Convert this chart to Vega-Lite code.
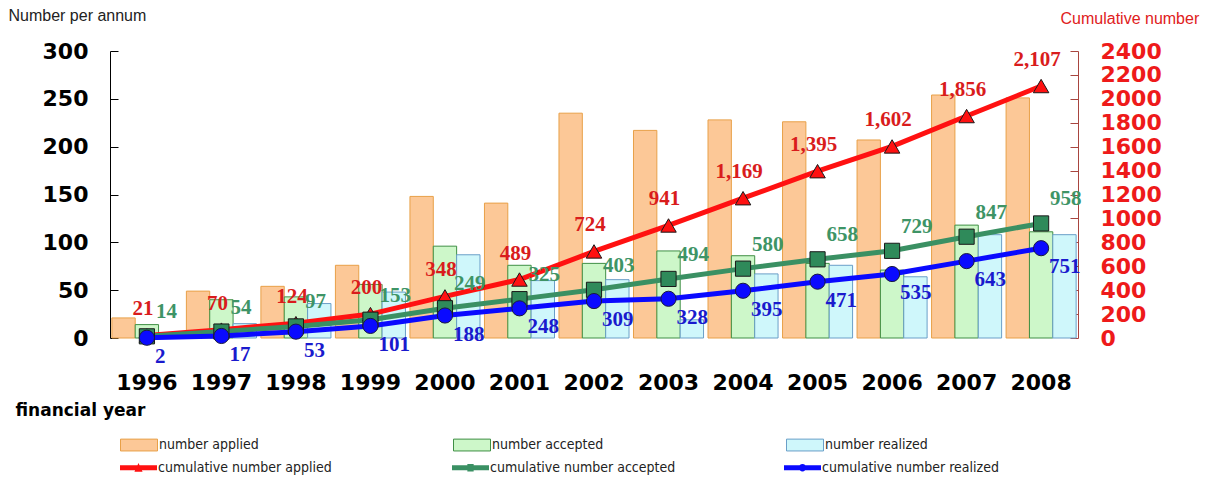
{
  "$schema": "https://vega.github.io/schema/vega-lite/v6.json",
  "width": 968,
  "height": 287,
  "autosize": {"type": "none"},
  "padding": {"left": 110, "top": 51, "right": 131, "bottom": 145},
  "background": "white",
  "config": {"view": {"stroke": null}, "font": "Liberation Sans"},
  "data": {
    "values": [
      {"year": "1996", "number applied": 21, "number accepted": 14, "number realized": 2, "cumulative number applied": 21, "cumulative number accepted": 14, "cumulative number realized": 2},
      {"year": "1997", "number applied": 49, "number accepted": 40, "number realized": 15, "cumulative number applied": 70, "cumulative number accepted": 54, "cumulative number realized": 17},
      {"year": "1998", "number applied": 54, "number accepted": 43, "number realized": 36, "cumulative number applied": 124, "cumulative number accepted": 97, "cumulative number realized": 53},
      {"year": "1999", "number applied": 76, "number accepted": 56, "number realized": 48, "cumulative number applied": 200, "cumulative number accepted": 153, "cumulative number realized": 101},
      {"year": "2000", "number applied": 148, "number accepted": 96, "number realized": 87, "cumulative number applied": 348, "cumulative number accepted": 249, "cumulative number realized": 188},
      {"year": "2001", "number applied": 141, "number accepted": 76, "number realized": 60, "cumulative number applied": 489, "cumulative number accepted": 325, "cumulative number realized": 248},
      {"year": "2002", "number applied": 235, "number accepted": 78, "number realized": 61, "cumulative number applied": 724, "cumulative number accepted": 403, "cumulative number realized": 309},
      {"year": "2003", "number applied": 217, "number accepted": 91, "number realized": 19, "cumulative number applied": 941, "cumulative number accepted": 494, "cumulative number realized": 328},
      {"year": "2004", "number applied": 228, "number accepted": 86, "number realized": 67, "cumulative number applied": 1169, "cumulative number accepted": 580, "cumulative number realized": 395},
      {"year": "2005", "number applied": 226, "number accepted": 78, "number realized": 76, "cumulative number applied": 1395, "cumulative number accepted": 658, "cumulative number realized": 471},
      {"year": "2006", "number applied": 207, "number accepted": 71, "number realized": 64, "cumulative number applied": 1602, "cumulative number accepted": 729, "cumulative number realized": 535},
      {"year": "2007", "number applied": 254, "number accepted": 118, "number realized": 108, "cumulative number applied": 1856, "cumulative number accepted": 847, "cumulative number realized": 643},
      {"year": "2008", "number applied": 251, "number accepted": 111, "number realized": 108, "cumulative number applied": 2107, "cumulative number accepted": 958, "cumulative number realized": 751}
    ]
  },
  "layer": [
    {
      "transform": [{"fold": ["number applied", "number accepted", "number realized"], "as": ["series", "n"]}],
      "mark": {"type": "bar", "strokeWidth": 1},
      "encoding": {
        "x": {
          "field": "year", "type": "ordinal",
          "scale": {"paddingInner": 0.06, "paddingOuter": 0.025},
          "axis": {
            "ticks": false, "domain": false, "labelAngle": 0,
            "labelFont": "DejaVu Sans", "labelFontWeight": "bold", "labelFontSize": 22, "labelColor": "black",
            "labelPadding": 34,
            "title": "financial year", "titleX": -95, "titleY": 72, "titleAlign": "left", "titleBaseline": "middle",
            "titleFont": "DejaVu Sans", "titleFontWeight": "bold", "titleFontSize": 17, "titleColor": "black"
          }
        },
        "xOffset": {"field": "series", "sort": ["number applied", "number accepted", "number realized"], "scale": {"paddingInner": 0, "paddingOuter": 0}},
        "y": {
          "field": "n", "type": "quantitative",
          "scale": {"domain": [0, 300]},
          "axis": {
            "values": [0, 50, 100, 150, 200, 250, 300], "grid": false,
            "domainColor": "black", "tickColor": "black", "tickSize": -8,
            "labelFont": "DejaVu Sans", "labelFontWeight": "bold", "labelFontSize": 22, "labelColor": "black", "labelPadding": 30,
            "title": "Number per annum", "titleAngle": 0, "titleX": -102, "titleY": -36, "titleAlign": "left", "titleBaseline": "middle",
            "titleFont": "Liberation Sans", "titleFontWeight": "normal", "titleFontSize": 16, "titleColor": "#222222"
          }
        },
        "fill": {
          "field": "series", "type": "nominal",
          "scale": {"domain": ["number applied", "number accepted", "number realized"], "range": ["#fcc897", "#cdf7c9", "#cff7fb"]},
          "legend": {"title": null, "orient": "none", "legendX": 10, "legendY": 375, "direction": "horizontal", "columns": 3, "gridAlign": "all", "columnPadding": 180,
            "symbolType": "M-1,-0.32H1V0.32H-1Z", "symbolSize": 1369, "symbolStrokeWidth": 1,
            "labelFont": "DejaVu Sans Condensed", "labelFontSize": 14, "labelColor": "#222222", "labelOffset": 1, "labelLimit": 400}
        },
        "stroke": {
          "field": "series", "type": "nominal",
          "scale": {"domain": ["number applied", "number accepted", "number realized"], "range": ["#e8a048", "#3f8f45", "#6a9fc8"]},
          "legend": {"title": null, "orient": "none", "legendX": 10, "legendY": 375, "direction": "horizontal", "columns": 3, "gridAlign": "all", "columnPadding": 180,
            "symbolType": "M-1,-0.32H1V0.32H-1Z", "symbolSize": 1369, "symbolStrokeWidth": 1,
            "labelFont": "DejaVu Sans Condensed", "labelFontSize": 14, "labelColor": "#222222", "labelOffset": 1, "labelLimit": 400}
        }
      }
    },
    {
      "transform": [{"fold": ["cumulative number applied", "cumulative number accepted", "cumulative number realized"], "as": ["cseries", "c"]}],
      "encoding": {
        "x": {
          "field": "year", "type": "ordinal",
          "axis": {
            "ticks": false, "domain": false, "labelAngle": 0,
            "labelFont": "DejaVu Sans", "labelFontWeight": "bold", "labelFontSize": 22, "labelColor": "black",
            "labelPadding": 34,
            "title": "financial year", "titleX": -95, "titleY": 72, "titleAlign": "left", "titleBaseline": "middle",
            "titleFont": "DejaVu Sans", "titleFontWeight": "bold", "titleFontSize": 17, "titleColor": "black"
          }
        },
        "y": {
          "field": "c", "type": "quantitative",
          "scale": {"domain": [0, 2400]},
          "axis": {
            "orient": "right", "values": [0, 200, 400, 600, 800, 1000, 1200, 1400, 1600, 1800, 2000, 2200, 2400], "format": "d", "grid": false,
            "domainColor": "#a8453f", "tickColor": "#a8453f", "tickSize": -8,
            "labelFont": "DejaVu Sans", "labelFontWeight": "bold", "labelFontSize": 22, "labelColor": "#ee1a1a", "labelPadding": 30,
            "title": "Cumulative number", "titleAngle": 0, "titleX": -18, "titleY": -33, "titleAlign": "left", "titleBaseline": "middle",
            "titleFont": "Liberation Sans", "titleFontWeight": "normal", "titleFontSize": 16, "titleColor": "#e02020"
          }
        }
      },
      "layer": [
        {
          "mark": {"type": "line", "strokeWidth": 5},
          "encoding": {
            "color": {
              "field": "cseries", "type": "nominal",
              "scale": {"domain": ["cumulative number applied", "cumulative number accepted", "cumulative number realized"], "range": ["#ff1111", "#3a9063", "#0a0aff"]},
              "legend": {"title": null, "orient": "none", "legendX": 10, "legendY": 398, "direction": "horizontal", "columns": 3, "gridAlign": "all", "columnPadding": 108,
                "symbolSize": 1369,
                "labelFont": "DejaVu Sans Condensed", "labelFontSize": 14, "labelColor": "#222222", "labelOffset": 1, "labelLimit": 400,
                "encode": {
                  "symbols": {
                    "update": {
                      "shape": {"signal": "datum.value === 'cumulative number applied' ? 'M-1,-0.13H1V0.13H-1Z M-0.22,0.22L0,-0.26L0.22,0.22Z' : datum.value === 'cumulative number accepted' ? 'M-1,-0.13H1V0.13H-1Z M-0.17,-0.2H0.17V0.2H-0.17Z' : 'M-1,-0.13H1V0.13H-1Z M-0.2,0A0.2,0.2,0,1,1,0.2,0A0.2,0.2,0,1,1,-0.2,0Z'"},
                      "fill": {"signal": "datum.value === 'cumulative number applied' ? '#ff1111' : datum.value === 'cumulative number accepted' ? '#3a9063' : '#0a0aff'"},
                      "strokeWidth": {"value": 0},
                      "opacity": {"value": 1}
                    }
                  }
                }
              }
            }
          }
        },
        {
          "transform": [{"filter": "datum.cseries === 'cumulative number applied'"}],
          "mark": {"type": "point", "shape": "triangle-up", "filled": true, "opacity": 1, "size": 240, "fill": "#ff1111", "stroke": "#1a1a1a", "strokeWidth": 1}
        },
        {
          "transform": [{"filter": "datum.cseries === 'cumulative number accepted'"}],
          "mark": {"type": "point", "shape": "square", "filled": true, "opacity": 1, "size": 230, "fill": "#2f8a5a", "stroke": "#1a1a1a", "strokeWidth": 1}
        },
        {
          "transform": [{"filter": "datum.cseries === 'cumulative number realized'"}],
          "mark": {"type": "point", "shape": "circle", "filled": true, "opacity": 1, "size": 230, "fill": "#0a0aff", "stroke": "#1a1a40", "strokeWidth": 1}
        },
        {
          "transform": [{"filter": "datum.cseries === 'cumulative number applied'"}],
          "mark": {"type": "text", "font": "Liberation Serif", "fontWeight": "bold", "fontSize": 21, "color": "#d91c1c", "dx": -4, "dy": -26, "baseline": "middle", "align": "center"},
          "encoding": {"text": {"field": "c", "type": "quantitative", "format": ","}}
        },
        {
          "transform": [{"filter": "datum.cseries === 'cumulative number accepted'"}],
          "mark": {"type": "text", "font": "Liberation Serif", "fontWeight": "bold", "fontSize": 21, "color": "#3e9466", "dx": 9, "dy": -24, "baseline": "middle", "align": "left"},
          "encoding": {"text": {"field": "c", "type": "quantitative", "format": ","}}
        },
        {
          "transform": [{"filter": "datum.cseries === 'cumulative number realized'"}],
          "mark": {"type": "text", "font": "Liberation Serif", "fontWeight": "bold", "fontSize": 21, "color": "#1a1acd", "dx": 8, "dy": 19, "baseline": "middle", "align": "left"},
          "encoding": {"text": {"field": "c", "type": "quantitative", "format": ","}}
        }
      ]
    }
  ],
  "resolve": {"scale": {"y": "independent"}}
}
